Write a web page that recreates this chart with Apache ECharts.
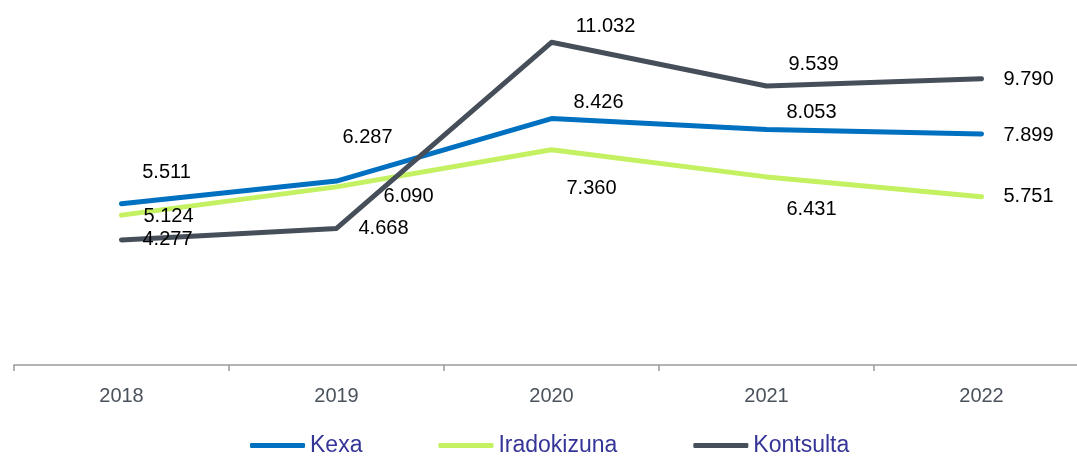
<!DOCTYPE html>
<html>
<head>
<meta charset="utf-8">
<script src="https://cdn.jsdelivr.net/npm/echarts@6/dist/echarts.min.js"></script>
<style>
  html, body { margin: 0; padding: 0; background: #fff; overflow: hidden; width: 1077px; height: 457px; }
  /* the plot runs a little past the right edge of the window, like the original */
  #main { width: 1089px; height: 457px; }
</style>
</head>
<body>
<div id="main"></div>
<script>
const years = ['2018', '2019', '2020', '2021', '2022'];
const kexa = [5.511, 6.287, 8.426, 8.053, 7.899];
const iradokizuna = [5.124, 6.090, 7.360, 6.431, 5.751];
const kontsulta = [4.277, 4.668, 11.032, 9.539, 9.790];

// where each value label sits, relative to its point (px)
const kexaLabelOffsets = [[45, -31], [31, -44], [47, -16], [45, -17], [47, 2]];
const iradLabelOffsets = [[47, 1], [72, 10], [40, 39], [45, 33], [47, 0]];
const kontLabelOffsets = [[46, 0], [47, 0], [54, -16], [47, -21], [47, 1]];

function fmt(v) {
  return v.toFixed(3);
}

function buildSeries(name, values, offsets, color) {
  return {
    name: name,
    type: 'line',
    symbol: 'circle',
    symbolSize: 0,
    showSymbol: true,
    lineStyle: { color: color, width: 5, cap: 'round', join: 'round' },
    itemStyle: { color: color },
    emphasis: { disabled: true },
    data: values.map(function (v, i) {
      return {
        value: v,
        label: {
          show: true,
          position: 'inside',
          align: 'center',
          verticalAlign: 'middle',
          offset: offsets[i],
          formatter: fmt(v),
          color: '#000',
          fontSize: 20,
          fontFamily: 'Liberation Sans, Arial, sans-serif'
        }
      };
    })
  };
}

const chart = echarts.init(document.getElementById('main'), null, { renderer: 'canvas' });

let option = {
  animation: false,
  grid: {
    left: 14,
    width: 1075,
    top: 14,
    bottom: 92
  },
  legend: {
    left: 250,
    top: 434,
    padding: 0,
    itemWidth: 55,
    itemHeight: 5,
    itemGap: 76,
    icon: 'roundRect',
    textStyle: {
      color: '#353598',
      fontSize: 23,
      fontFamily: 'Liberation Sans, Arial, sans-serif'
    },
    data: ['Kexa', 'Iradokizuna', 'Kontsulta']
  },
  xAxis: {
    type: 'category',
    data: years,
    boundaryGap: true,
    offset: 2,
    axisLine: { lineStyle: { color: '#9a9a9a', width: 1.5 } },
    axisTick: { show: true, length: 6, lineStyle: { color: '#9a9a9a', width: 1.5 } },
    axisLabel: {
      color: '#4a525c',
      fontSize: 20,
      margin: 19,
      fontFamily: 'Liberation Sans, Arial, sans-serif'
    },
    splitLine: { show: false }
  },
  yAxis: {
    type: 'value',
    min: 0,
    max: 12,
    show: false,
    splitLine: { show: false }
  },
  series: [
    buildSeries('Kexa', kexa, kexaLabelOffsets, '#0070C0'),
    buildSeries('Iradokizuna', iradokizuna, iradLabelOffsets, '#C4F161'),
    buildSeries('Kontsulta', kontsulta, kontLabelOffsets, '#464F59')
  ]
};

chart.setOption(option);
</script>
</body>
</html>
